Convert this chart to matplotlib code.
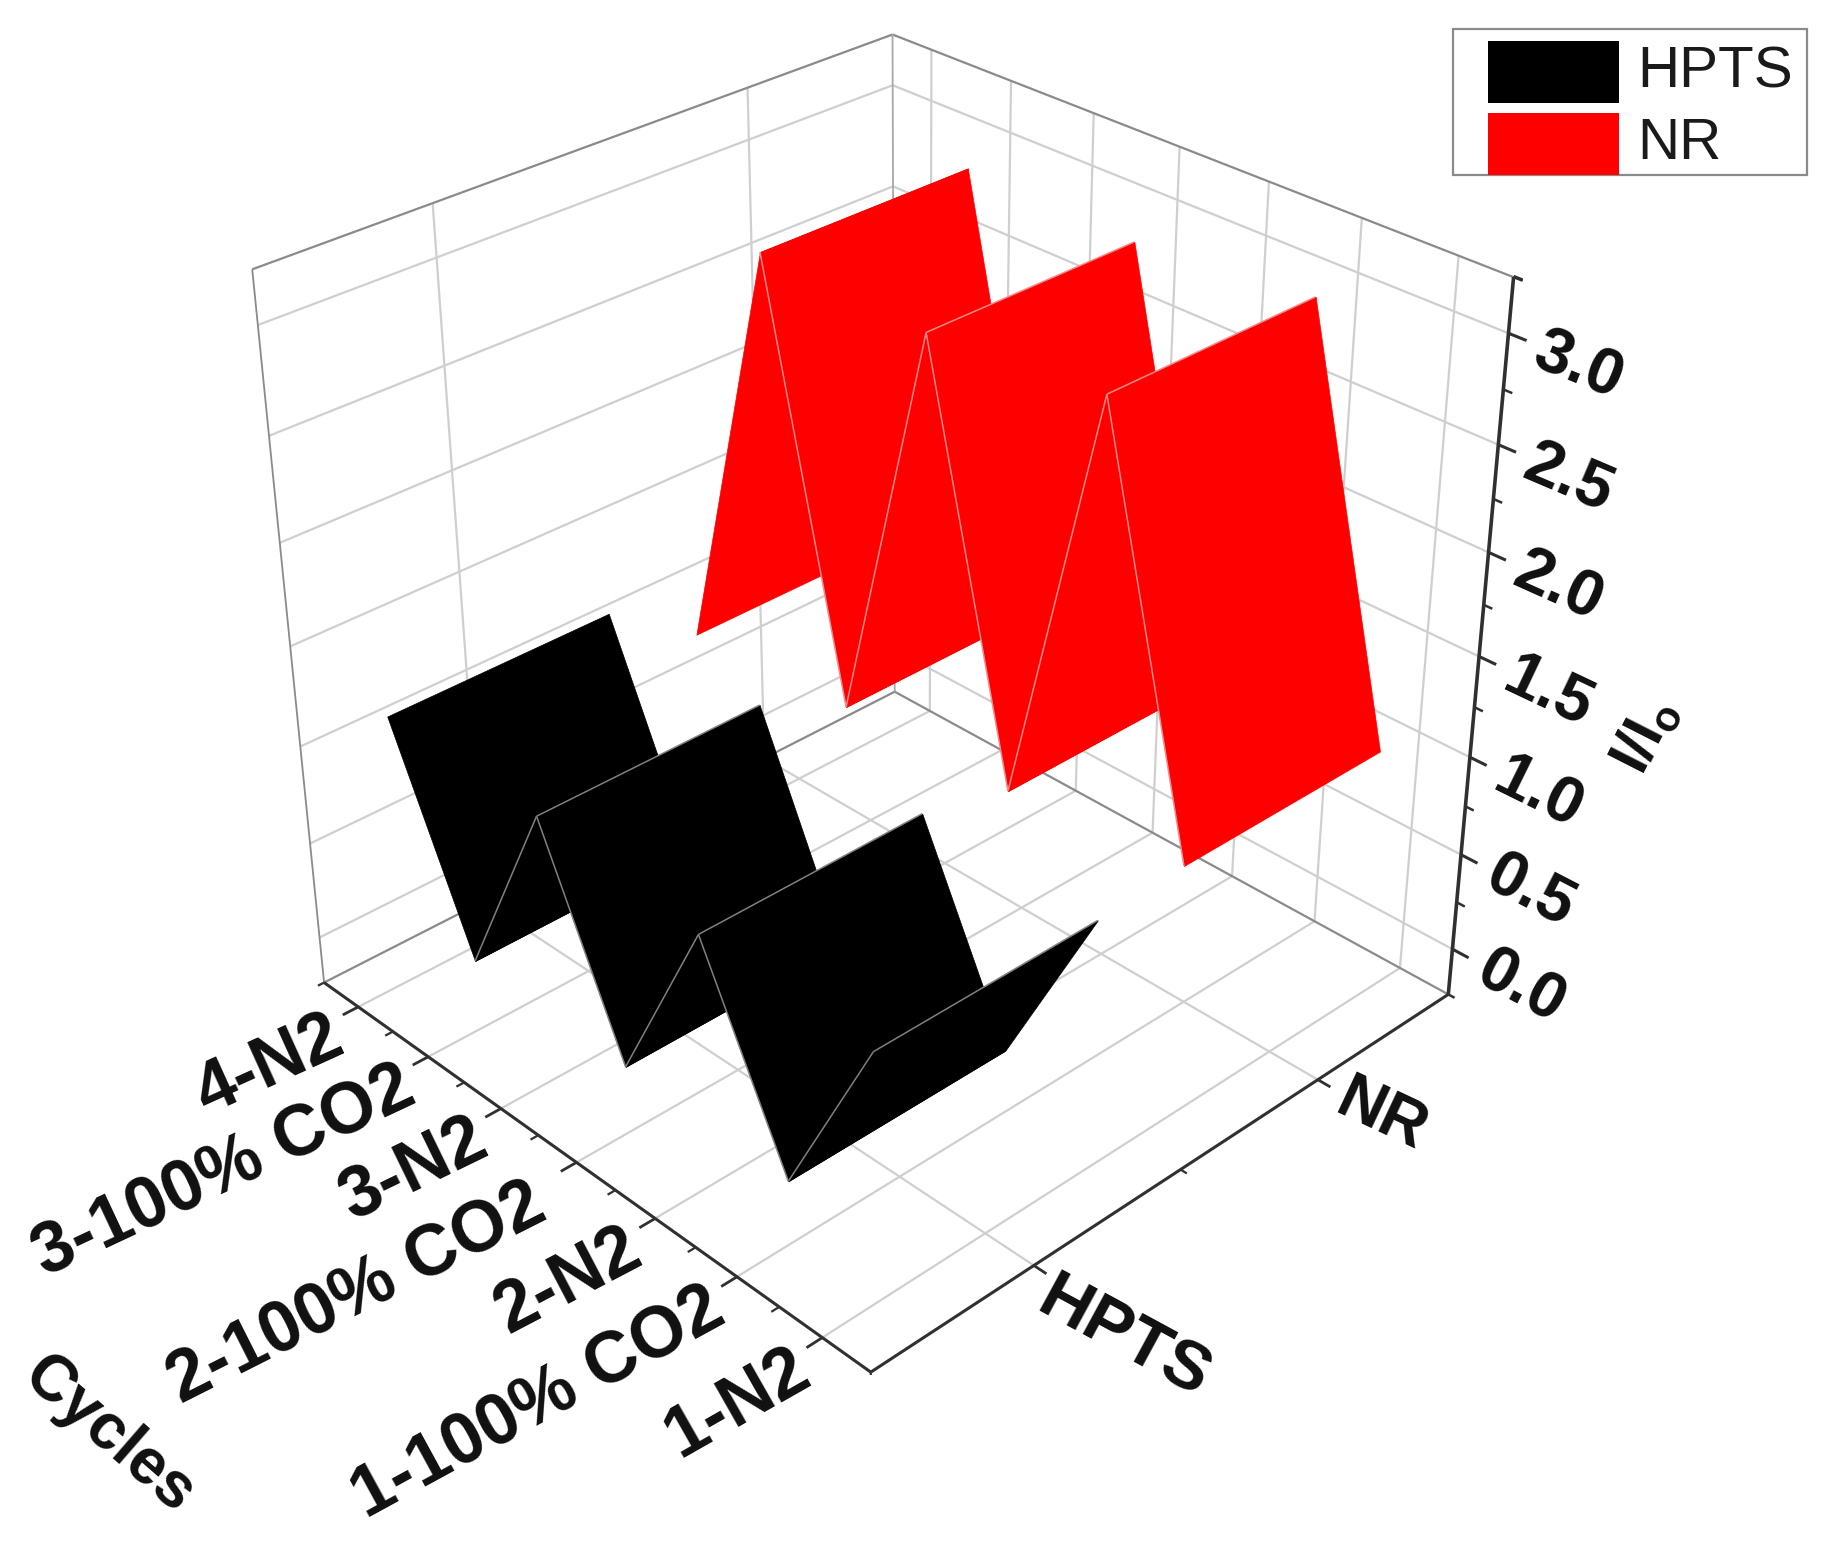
"""3D ribbon chart of I/Io over N2 / CO2 cycles for HPTS and NR."""
import numpy as np
import matplotlib
matplotlib.use("Agg")
import matplotlib.pyplot as plt
from matplotlib.patches import Rectangle
from mpl_toolkits.mplot3d import proj3d
from mpl_toolkits.mplot3d.art3d import Poly3DCollection

cycles = ['4-N2', '3-100% CO2', '3-N2', '2-100% CO2', '2-N2', '1-100% CO2', '1-N2']
series = ['HPTS', 'NR']
hpts = [1.14, 0.12, 1.11, 0.10, 1.03, 0.08, 1.00]
nr = [0.82, 2.91, 0.88, 2.89, 0.91, 2.98, 1.02]
z_ticks = [0.0, 0.5, 1.0, 1.5, 2.0, 2.5, 3.0]

W, H = 1829, 1556
plt.rcParams['font.family'] = ['Liberation Sans', 'DejaVu Sans']
plt.rcParams['mathtext.fontset'] = 'custom'
plt.rcParams['mathtext.bf'] = 'Liberation Sans:bold'

x0, x1 = 0.4977, 7.5499
y0, y1 = 0.4457, 2.5315
z0, z1 = -0.2454, 3.2453
half = 0.365

fig = plt.figure(figsize=(W/100, H/100), dpi=100)
L = 1409.9
ax = fig.add_axes([158.5/W, 180.6/H, L/W, L/H], projection='3d', computed_zorder=False)
ax.set_axis_off()
ax.view_init(31.2394, -43.5482, 0.3036)
ax.set_proj_type('persp', focal_length=float(np.exp(-0.7063)))
ax.set_box_aspect((1, 0.9975, 0.9903))
ax.set_xlim(x0, x1, view_margin=0)
ax.set_ylim(y0, y1, view_margin=0)
ax.set_zlim(z0, z1, view_margin=0)


def seg(a, b, color, lw, zorder=1):
    ax.plot([a[0], b[0]], [a[1], b[1]], [a[2], b[2]], color=color, lw=lw, zorder=zorder,
            solid_capstyle='butt')


def to_px(p):
    # 3D point to pixel position of the figure
    X, Y, _ = proj3d.proj_transform(p[0], p[1], p[2], ax.get_proj())
    return ax.transData.transform((X, Y))


def label(p, direction, s, off, size, ha, tilt=0):
    # text next to a 3D point, running along a projected 3D direction
    a = to_px(p)
    b = to_px((p[0]+direction[0], p[1]+direction[1], p[2]+direction[2]))
    angle = np.degrees(np.arctan2(b[1]-a[1], b[0]-a[0])) + tilt
    fig.text((a[0]+off[0])/W, (a[1]-off[1])/H, s, ha=ha, va='center', rotation=angle,
             rotation_mode='anchor', fontsize=size, fontweight='bold', color='#101010')


grid = '#cfcfcf'
xs = np.arange(1, len(cycles)+1)
ys = [0.98, 2.01]

# walls and floor grid
for x in xs:
    seg((x, y0, z0), (x, y1, z0), grid, 1.6)
    seg((x, y1, z0), (x, y1, z1), grid, 1.6)
for y in ys:
    seg((x0, y, z0), (x1, y, z0), grid, 1.6)
    seg((x0, y, z0), (x0, y, z1), grid, 1.6)
for z in z_ticks:
    seg((x0, y0, z), (x0, y1, z), grid, 1.6)
    seg((x0, y1, z), (x1, y1, z), grid, 1.6)

# box edges
edge = '#8a8a8a'
seg((x0, y0, z1), (x0, y1, z1), edge, 1.6, 2)
seg((x0, y1, z1), (x1, y1, z1), edge, 1.6, 2)
seg((x0, y0, z0), (x0, y0, z1), edge, 1.3, 2)
seg((x0, y1, z0), (x0, y1, z1), '#a8a8a8', 1.3, 2)
seg((x0, y0, z0), (x0, y1, z0), edge, 1.6, 2)
seg((x0, y1, z0), (x1, y1, z0), edge, 1.6, 2)

# axes lines and ticks
dark = '#303030'
seg((x0, y0, z0), (x1, y0, z0), dark, 2.2, 3)
seg((x1, y0, z0), (x1, y1, z0), dark, 2.2, 3)
seg((x1, y1, z0), (x1, y1, z1), dark, 2.6, 3)
for x in xs:
    seg((x, y0, z0), (x, y0-0.05, z0), dark, 2, 3)
for x in xs[:-1]+0.5:
    seg((x, y0, z0), (x, y0-0.025, z0), dark, 1.6, 3)
for y in ys:
    seg((x1, y, z0), (x1+0.14, y, z0), dark, 2, 3)
seg((x1, sum(ys)/2, z0), (x1+0.07, sum(ys)/2, z0), dark, 1.6, 3)
for z in z_ticks:
    seg((x1, y1, z), (x1+0.18, y1, z), dark, 2.2, 3)
    seg((x1, y1, z+0.25), (x1+0.09, y1, z+0.25), dark, 1.8, 3)
seg((x1, y1, z1), (x1+0.09, y1, z1), dark, 1.8, 3)
seg((x1, y1, z0), (x1+0.07, y1, z0), dark, 1.8, 3)
seg((x1, y0, z0), (x1+0.07, y0-0.02, z0), dark, 1.6, 3)
seg((x0, y0, z0), (x0, y0-0.02, z0), dark, 1.6, 3)


def ribbon(values, yc, color, fold, base, peaks):
    yn, yf = yc-half, yc+half
    for i in range(len(values)-1):
        v = [(xs[i], yn, values[i]), (xs[i+1], yn, values[i+1]),
             (xs[i+1], yf, values[i+1]), (xs[i], yf, values[i])]
        ax.add_collection3d(Poly3DCollection([v], facecolors=color, edgecolors=color,
                                             linewidths=0.5, zorder=base+i))
        # fold lines show inside the ribbon, not on its first outer edge
        if i >= 1:
            seg(v[0], v[1], fold, 1.1, base+i+0.5)
        if i in peaks:
            seg(v[0], v[3], fold, 1.1, base+i+0.5)
    if len(values)-1 in peaks:
        seg(v[1], v[2], fold, 1.1, base+len(values))


ribbon(nr, ys[1], '#ff0000', '#f58a8a', 10, [3, 5])
ribbon(hpts, ys[0], '#000000', '#808080', 30, [2, 4, 6])

# tick labels, the 2-100% one sits a bit further off the axis
for x, s in zip(xs, cycles):
    off = (-36, 38) if s == '2-100% CO2' else (-18, 27)
    label((x, y0, z0), (0, 1, 0), s, off, 51.5, 'right', tilt=-3)
label((x1, ys[0], z0), (1, 0, 0), series[0], (8, 29), 50, 'left', tilt=5)
label((x1, ys[1], z0), (1, 0, 0), series[1], (22, 17), 46, 'left', tilt=5)
for z in z_ticks:
    label((x1, y1, z), (1, 0, 0), f'{z:.1f}', (28, 17), 47, 'left')
fig.text(1645/W, 1-736/H, r'$\mathbf{I/I_o}$', ha='center', va='center', rotation=63,
         rotation_mode='anchor', fontsize=43, color='#101010')
fig.text(109/W, 1-1435/H, 'Cycles', ha='center', va='center', rotation=-41, rotation_mode='anchor',
         fontsize=46, fontweight='bold', color='#101010')


# legend
def box(l, t, r, b, **kw):
    fig.add_artist(Rectangle((l/W, 1-b/H), (r-l)/W, (b-t)/H, transform=fig.transFigure, **kw))


box(1453, 29, 1807, 175, facecolor='white', edgecolor='#8a8a8a', lw=1.6)
box(1488, 41, 1619, 103, facecolor='#000000', edgecolor='none')
box(1488, 113, 1619, 175, facecolor='#ff0000', edgecolor='none')
fig.text(1637/W, 1-72/H, series[0], ha='left', va='center', fontsize=42, color='#1a1a1a')
fig.text(1637/W, 1-144/H, series[1], ha='left', va='center', fontsize=42, color='#1a1a1a')

fig.savefig('out.png', dpi=100)
